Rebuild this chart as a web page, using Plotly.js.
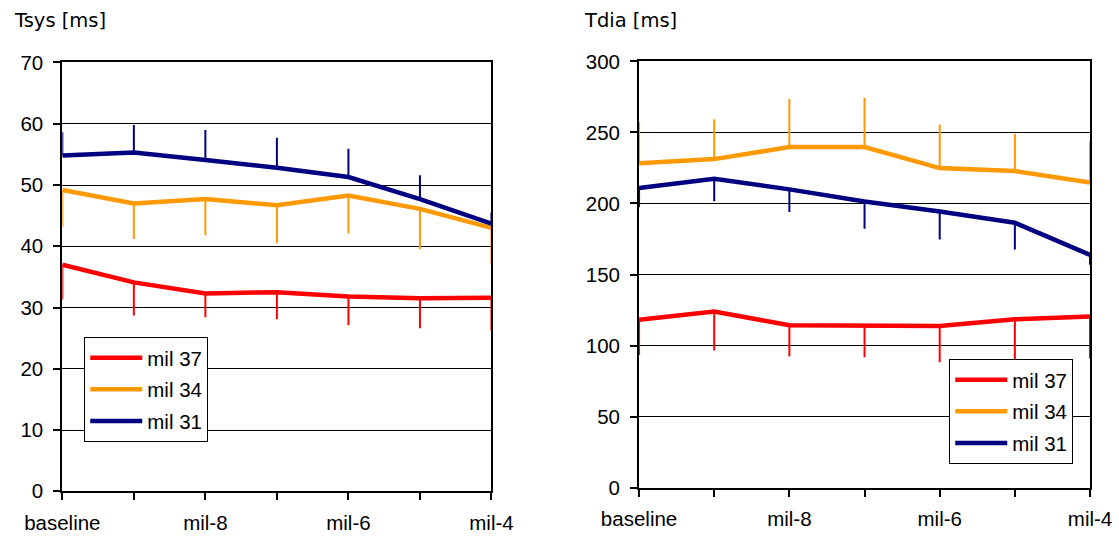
<!DOCTYPE html>
<html>
<head>
<meta charset="utf-8">
<script src="https://cdn.plot.ly/plotly-3.0.1.min.js"></script>
<style>
  html, body { margin: 0; padding: 0; background: #fff; }
  #chart { width: 1119px; height: 536px; }
</style>
</head>
<body>
<div id="chart"></div>
<script>
// Visit axis: every second visit is left unlabeled
const visitLabels = ['baseline', '', 'mil-8', '', 'mil-6', '', 'mil-4'];
const visitIndex = [0, 1, 2, 3, 4, 5, 6];

// Tsys [ms] — means and standard deviations per group
const tsys37 = [37.0, 34.1, 32.3, 32.5, 31.8, 31.5, 31.6];
const tsys37Sd = [5.7, 5.4, 3.9, 4.4, 4.7, 4.9, 5.3];
const tsys34 = [49.2, 47.0, 47.7, 46.7, 48.3, 46.1, 43.0];
const tsys34Sd = [6.1, 5.8, 5.9, 6.2, 6.2, 6.6, 5.9];
const tsys31 = [54.8, 55.3, 54.1, 52.8, 51.3, 47.7, 43.7];
const tsys31Sd = [3.8, 4.5, 4.9, 4.9, 4.6, 3.9, 1.8];

// Tdia [ms] — means and standard deviations per group
const tdia37 = [118.1, 123.9, 114.3, 114.3, 113.8, 118.5, 120.4];
const tdia37Sd = [24.7, 27.4, 22.0, 22.5, 25.5, 29.5, 29.6];
const tdia34 = [228.2, 231.2, 239.7, 239.7, 224.9, 222.8, 214.8];
const tdia34Sd = [29.1, 28.0, 33.8, 34.7, 30.5, 26.0, 28.9];
const tdia31 = [210.8, 217.4, 209.9, 201.4, 194.4, 186.4, 163.8];
const tdia31Sd = [13.4, 15.8, 16.0, 19.2, 19.8, 18.8, 7.0];

const groupNames = ['mil 37', 'mil 34', 'mil 31'];
const groupColors = ['#FF0000', '#FF9900', '#000080'];

const tickFont = { family: 'Liberation Sans, Arial, sans-serif', size: 20.5, color: '#000' };
const titleFont = { family: 'DejaVu Sans, Verdana, sans-serif', size: 19.5, color: '#000' };

// One group line with a one-sided SD whisker (up or down), no caps
function groupTrace(idx, y, sd, dir, xa, ya, legend) {
  const none = sd.map(() => 0);
  return {
    type: 'scatter', mode: 'lines',
    x: visitIndex, y: y,
    name: groupNames[idx],
    legendgroup: groupNames[idx],
    xaxis: xa, yaxis: ya, legend: legend,
    line: { color: groupColors[idx], width: 4.5 },
    error_y: {
      type: 'data', symmetric: false,
      array: dir === 'up' ? sd : none,
      arrayminus: dir === 'down' ? sd : none,
      width: 0, thickness: 2, color: groupColors[idx]
    },
    hoverinfo: 'x+y'
  };
}

const traces = [
  groupTrace(0, tsys37, tsys37Sd, 'down', 'x', 'y', 'legend'),
  groupTrace(1, tsys34, tsys34Sd, 'down', 'x', 'y', 'legend'),
  groupTrace(2, tsys31, tsys31Sd, 'up', 'x', 'y', 'legend'),
  groupTrace(0, tdia37, tdia37Sd, 'down', 'x2', 'y2', 'legend2'),
  groupTrace(1, tdia34, tdia34Sd, 'up', 'x2', 'y2', 'legend2'),
  groupTrace(2, tdia31, tdia31Sd, 'down', 'x2', 'y2', 'legend2')
];

function xAxis(domain, anchor) {
  return {
    domain: domain, anchor: anchor, range: [0, 6], fixedrange: true,
    tickmode: 'array', tickvals: visitIndex, ticktext: visitLabels,
    ticks: 'outside', ticklen: 7, tickwidth: 1.5, tickcolor: '#000',
    ticklabelstandoff: 5,
    showgrid: false, zeroline: false,
    showline: true, linecolor: '#000', linewidth: 2, mirror: true,
    tickfont: tickFont
  };
}
function yAxis(domain, anchor, max, step) {
  return {
    domain: domain, anchor: anchor, range: [0, max], fixedrange: true,
    tick0: 0, dtick: step,
    ticks: 'outside', ticklen: 7, tickwidth: 1.5, tickcolor: '#000',
    ticklabelstandoff: 6,
    showgrid: true, gridcolor: '#000', gridwidth: 1,
    zeroline: false,
    showline: true, linecolor: '#000', linewidth: 2, mirror: true,
    tickfont: tickFont
  };
}

const legendStyle = {
  bgcolor: '#fff', bordercolor: '#000', borderwidth: 1,
  font: tickFont, itemwidth: 52, itemclick: false, itemdoubleclick: false,
  xanchor: 'left', yanchor: 'top', traceorder: 'grouped', tracegroupgap: 2
};

const layout = {
  width: 1119, height: 536,
  margin: { l: 0, r: 0, t: 0, b: 0 },
  paper_bgcolor: '#fff', plot_bgcolor: '#fff',
  showlegend: true,
  xaxis: xAxis([0.0557, 0.4392], 'y'),
  yaxis: yAxis([0.0834, 0.8834], 'x', 70, 10),
  xaxis2: xAxis([0.5711, 0.9741], 'y2'),
  yaxis2: yAxis([0.0901, 0.8856], 'x2', 300, 50),
  legend: Object.assign({ x: 0.0753, y: 0.3715 }, legendStyle),
  legend2: Object.assign({ x: 0.8483, y: 0.3305 }, legendStyle),
  annotations: [
    { text: 'Tsys [ms]', xref: 'paper', yref: 'paper', x: 0.0105, y: 0.962,
      xanchor: 'left', yanchor: 'middle', showarrow: false, font: titleFont },
    { text: 'Tdia [ms]', xref: 'paper', yref: 'paper', x: 0.5205, y: 0.962,
      xanchor: 'left', yanchor: 'middle', showarrow: false, font: titleFont }
  ]
};

Plotly.newPlot('chart', traces, layout, { displayModeBar: false });
</script>
</body>
</html>
